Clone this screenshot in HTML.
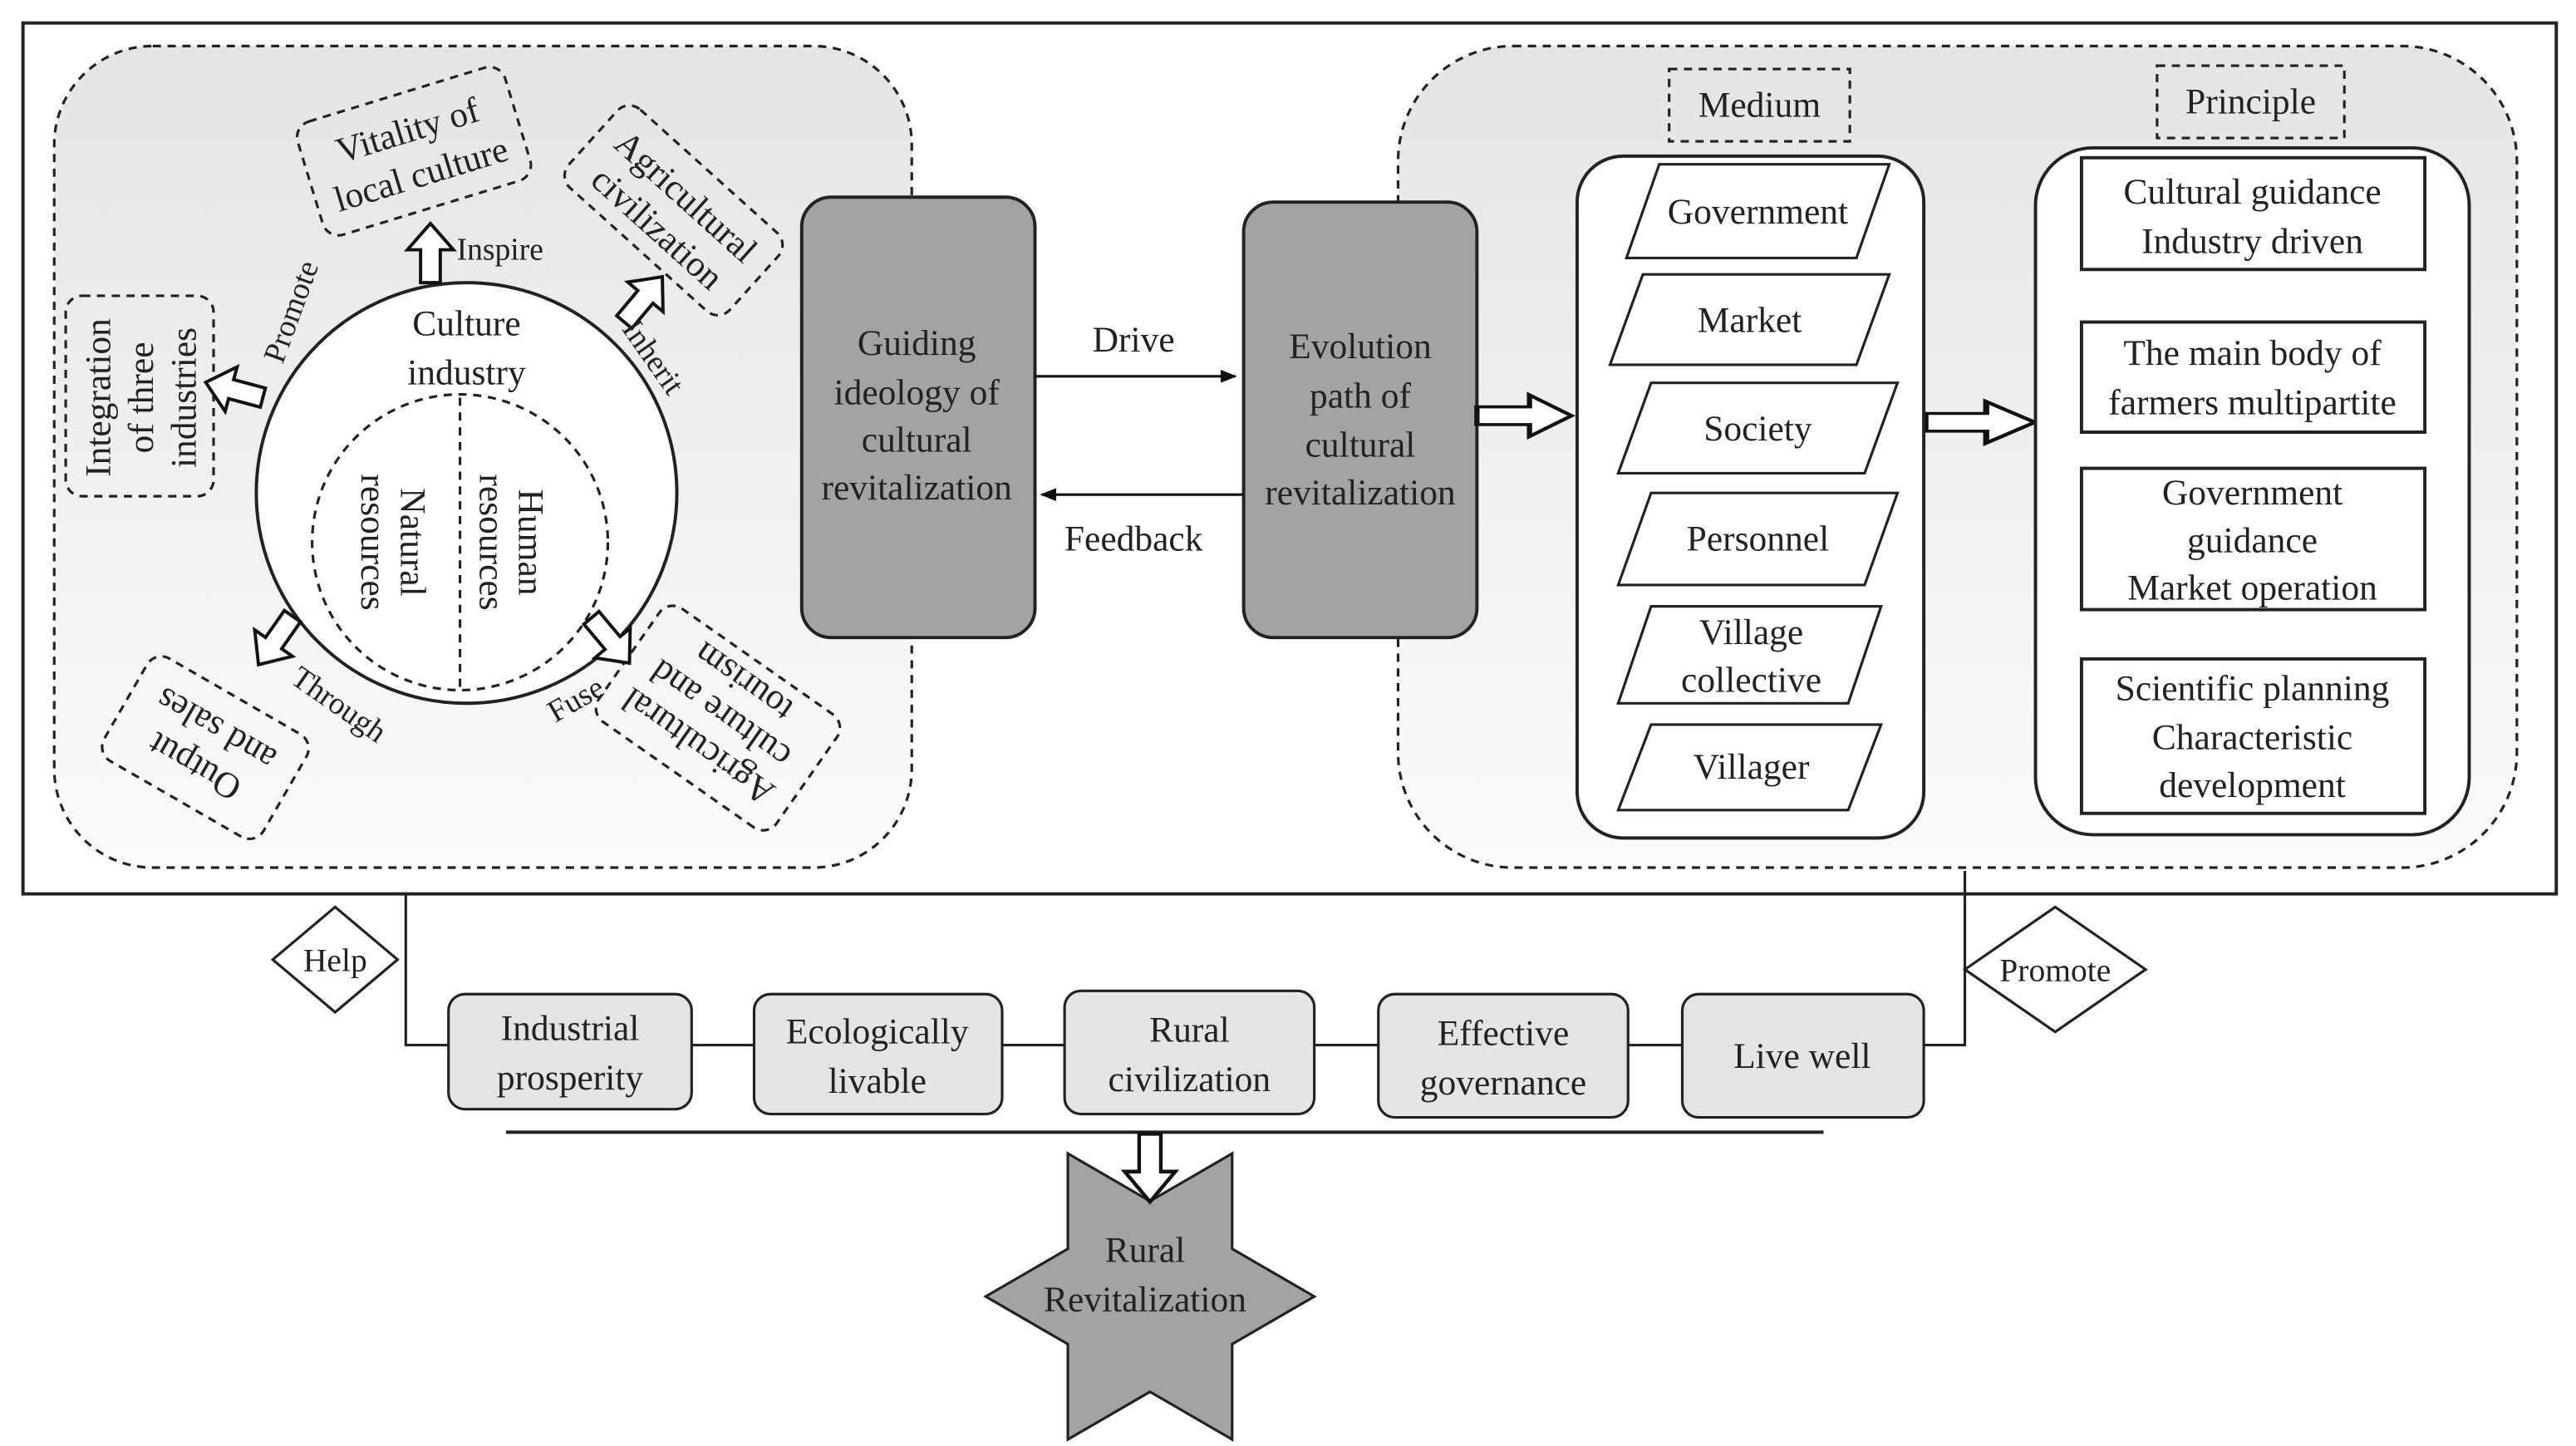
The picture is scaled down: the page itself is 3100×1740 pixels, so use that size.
<!DOCTYPE html>
<html><head><meta charset="utf-8"><style>html,body{margin:0;padding:0;background:#fff}svg{display:block}svg text{font-family:"Liberation Serif","DejaVu Serif",serif}</style></head>
<body>
<svg width="3100" height="1740" viewBox="0 0 1568 880" preserveAspectRatio="none" xmlns="http://www.w3.org/2000/svg" font-size="22" fill="#222">
<defs>
<linearGradient id="g" x1="0" y1="0" x2="0" y2="1"><stop offset="0" stop-color="#e4e4e4"/><stop offset="1" stop-color="#fbfbfb"/></linearGradient>
<marker id="ar" markerWidth="10" markerHeight="8" refX="9" refY="4" orient="auto" markerUnits="userSpaceOnUse"><path d="M0,0 L10,4 L0,8 z" fill="#111"/></marker>
<g id="ha"><polygon points="-6,0 -6,-20 -14,-20 0,-36 14,-20 6,-20 6,0" fill="#fff" stroke="#111" stroke-width="2"/></g>
</defs>
<rect x="14" y="14" width="1542" height="530" fill="#fff" stroke="#222" stroke-width="2"/>
<rect x="33" y="28" width="522" height="500" rx="60" fill="url(#g)" stroke="#222" stroke-width="1.6" stroke-dasharray="5,4"/>
<rect x="851" y="28" width="681" height="500" rx="70" fill="url(#g)" stroke="#222" stroke-width="1.6" stroke-dasharray="5,4"/>

<circle cx="284" cy="300" r="128" fill="#fff" stroke="#222" stroke-width="2"/>
<circle cx="280" cy="330" r="90" fill="#fff" stroke="#222" stroke-width="1.6" stroke-dasharray="5,4"/>
<line x1="280" y1="242" x2="280" y2="420" stroke="#222" stroke-width="1.6" stroke-dasharray="5,4"/>
<text x="284" y="204" text-anchor="middle">Culture</text>
<text x="284" y="234" text-anchor="middle">industry</text>
<g transform="translate(310,330) rotate(90)" text-anchor="middle"><text x="0" y="-6">Human</text><text x="0" y="18">resources</text></g>
<g transform="translate(238,330) rotate(90)" text-anchor="middle"><text x="0" y="-6">Natural</text><text x="0" y="18">resources</text></g>

<rect x="40" y="180" width="90" height="122" rx="10" fill="none" stroke="#222" stroke-width="1.6" stroke-dasharray="5,4"/>
<g transform="translate(85,242) rotate(-90)" text-anchor="middle"><text y="-18">Integration</text><text y="8">of three</text><text y="34">industries</text></g>
<g transform="translate(252,92) rotate(-17)"><rect x="-66" y="-36" width="132" height="72" rx="10" fill="none" stroke="#222" stroke-width="1.6" stroke-dasharray="5,4"/><text text-anchor="middle" y="-6">Vitality of</text><text text-anchor="middle" y="22">local culture</text></g>
<g transform="translate(410,128) rotate(42)"><rect x="-66" y="-32" width="132" height="64" rx="10" fill="none" stroke="#222" stroke-width="1.6" stroke-dasharray="5,4"/><text text-anchor="middle" y="-4">Agricultural</text><text text-anchor="middle" y="22">civilization</text></g>
<g transform="translate(125,455) rotate(-150)"><rect x="-56" y="-36" width="112" height="72" rx="10" fill="none" stroke="#222" stroke-width="1.6" stroke-dasharray="5,4"/><text text-anchor="middle" y="-6">Output</text><text text-anchor="middle" y="20">and sales</text></g>
<g transform="translate(437,437) rotate(-145)"><rect x="-66" y="-42" width="132" height="84" rx="10" fill="none" stroke="#222" stroke-width="1.6" stroke-dasharray="5,4"/><text text-anchor="middle" y="-14">Agricultural</text><text text-anchor="middle" y="10">culture and</text><text text-anchor="middle" y="34">tourism</text></g>

<use href="#ha" transform="translate(262,172)"/>
<use href="#ha" transform="translate(380,196) rotate(40)"/>
<use href="#ha" transform="translate(160,242) rotate(-75)"/>
<use href="#ha" transform="translate(178,375) rotate(-145)"/>
<use href="#ha" transform="translate(360,376) rotate(140)"/>
<text x="278" y="158" font-size="19">Inspire</text>
<g transform="translate(378,200) rotate(55)"><text font-size="19">Inherit</text></g>
<g transform="translate(172,222) rotate(-70)"><text font-size="19">Promote</text></g>
<g transform="translate(176,415) rotate(35)"><text font-size="19">Through</text></g>
<g transform="translate(338,440) rotate(-30)"><text font-size="19">Fuse</text></g>

<rect x="488" y="120" width="142" height="268" rx="18" fill="#a3a3a3" stroke="#222" stroke-width="2"/>
<g text-anchor="middle"><text x="558" y="216">Guiding</text><text x="558" y="246">ideology of</text><text x="558" y="275">cultural</text><text x="558" y="304">revitalization</text></g>
<rect x="757" y="123" width="142" height="265" rx="18" fill="#a3a3a3" stroke="#222" stroke-width="2"/>
<g text-anchor="middle"><text x="828" y="218">Evolution</text><text x="828" y="248">path of</text><text x="828" y="278">cultural</text><text x="828" y="307">revitalization</text></g>
<line x1="630" y1="229" x2="752" y2="229" stroke="#111" stroke-width="1.6" marker-end="url(#ar)"/>
<text x="690" y="214" text-anchor="middle">Drive</text>
<line x1="757" y1="301" x2="634" y2="301" stroke="#111" stroke-width="1.6" marker-end="url(#ar)"/>
<text x="690" y="335" text-anchor="middle">Feedback</text>
<use href="#ha" transform="translate(899,253) rotate(90) scale(0.9,1.6)"/>
<use href="#ha" transform="translate(1172,257) rotate(90) scale(0.9,1.85)"/>

<rect x="1016" y="42" width="110" height="44" fill="none" stroke="#222" stroke-width="1.6" stroke-dasharray="5,4"/>
<text x="1071" y="71" text-anchor="middle">Medium</text>
<rect x="1313" y="40" width="114" height="44" fill="none" stroke="#222" stroke-width="1.6" stroke-dasharray="5,4"/>
<text x="1370" y="69" text-anchor="middle">Principle</text>
<rect x="960" y="95" width="211" height="415" rx="28" fill="#fff" stroke="#222" stroke-width="2"/>
<g fill="#fff" stroke="#222" stroke-width="1.6">
<polygon points="1010,100 1150,100 1130,157 990,157"/>
<polygon points="1000,167 1150,167 1130,222 980,222"/>
<polygon points="1005,233 1155,233 1135,288 985,288"/>
<polygon points="1005,300 1155,300 1135,356 985,356"/>
<polygon points="1005,369 1145,369 1125,428 985,428"/>
<polygon points="1005,441 1145,441 1125,493 985,493"/>
</g>
<g text-anchor="middle"><text x="1070" y="136">Government</text><text x="1065" y="202">Market</text><text x="1070" y="268">Society</text><text x="1070" y="335">Personnel</text><text x="1066" y="392">Village</text><text x="1066" y="421">collective</text><text x="1066" y="474">Villager</text></g>

<rect x="1239" y="90" width="264" height="418" rx="35" fill="#fff" stroke="#222" stroke-width="2"/>
<g fill="#fff" stroke="#222" stroke-width="2"><rect x="1267" y="96" width="209" height="68"/><rect x="1267" y="196" width="209" height="67"/><rect x="1267" y="285" width="209" height="86"/><rect x="1267" y="401" width="209" height="94"/></g>
<g text-anchor="middle"><text x="1371" y="124">Cultural guidance</text><text x="1371" y="154">Industry driven</text><text x="1371" y="222">The main body of</text><text x="1371" y="252">farmers multipartite</text><text x="1371" y="307">Government</text><text x="1371" y="336">guidance</text><text x="1371" y="365">Market operation</text><text x="1371" y="426">Scientific planning</text><text x="1371" y="456">Characteristic</text><text x="1371" y="485">development</text></g>

<polyline points="247,544 247,636 1196,636 1196,530" fill="none" stroke="#222" stroke-width="1.6"/>
<polygon points="204,552 242,584 204,616 166,584" fill="#fff" stroke="#222" stroke-width="1.6"/>
<text x="204" y="591" text-anchor="middle" font-size="20">Help</text>
<polygon points="1251,552 1306,590 1251,628 1196,590" fill="#fff" stroke="#222" stroke-width="1.6"/>
<text x="1251" y="597" text-anchor="middle" font-size="20">Promote</text>
<g fill="#e4e4e4" stroke="#222" stroke-width="1.6">
<rect x="273" y="605" width="148" height="70" rx="10"/><rect x="459" y="605" width="151" height="73" rx="10"/><rect x="648" y="603" width="152" height="75" rx="10"/><rect x="839" y="605" width="152" height="75" rx="10"/><rect x="1024" y="605" width="147" height="75" rx="10"/>
</g>
<g text-anchor="middle"><text x="347" y="633">Industrial</text><text x="347" y="663">prosperity</text><text x="534" y="635">Ecologically</text><text x="534" y="665">livable</text><text x="724" y="634">Rural</text><text x="724" y="664">civilization</text><text x="915" y="636">Effective</text><text x="915" y="666">governance</text><text x="1097" y="650">Live well</text></g>
<line x1="308" y1="689" x2="1110" y2="689" stroke="#222" stroke-width="2"/>
<polygon points="800,789 750,760 750,702 700,731 650,702 650,760 600,789 650,818 650,876 700,847 750,876 750,818" fill="#a3a3a3" stroke="#222" stroke-width="1.6"/>
<use href="#ha" transform="translate(700,690) rotate(180) scale(1.1,1.15)"/>
<g text-anchor="middle"><text x="697" y="768">Rural</text><text x="697" y="798">Revitalization</text></g>
</svg>
</body></html>
